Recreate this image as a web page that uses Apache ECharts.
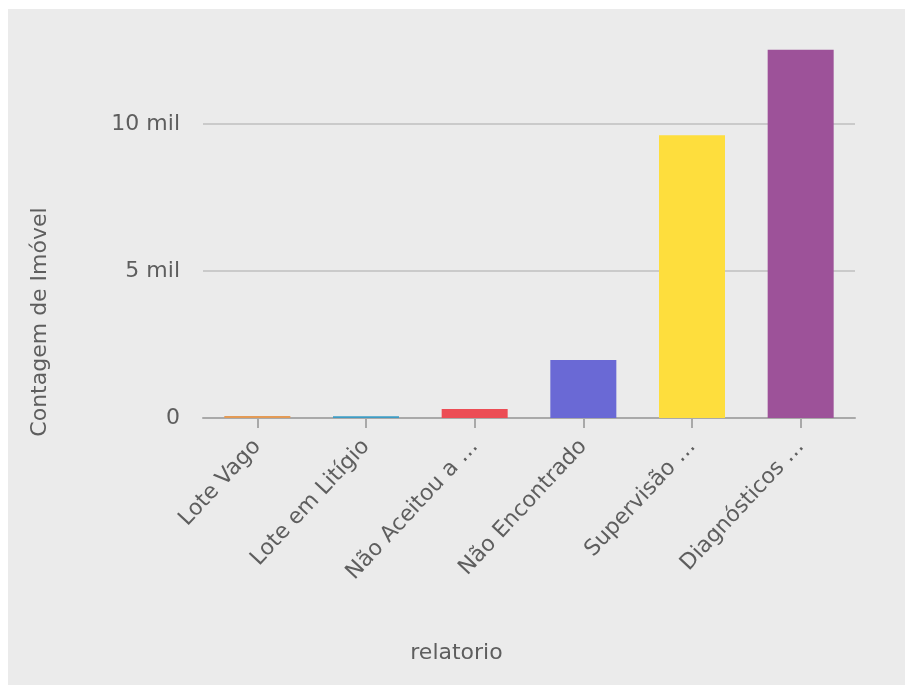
<!DOCTYPE html>
<html>
<head>
<meta charset="utf-8">
<script src="https://cdn.jsdelivr.net/npm/echarts@6/dist/echarts.min.js"></script>
<style>
  html, body { margin: 0; padding: 0; background: #ffffff; }
  #wrap { position: relative; width: 905px; height: 685px; background: #ffffff; overflow: hidden; }
  #chart { position: absolute; left: 8px; top: 9px; width: 897px; height: 676px; background: #ebebeb; }
</style>
</head>
<body>
<div id="wrap"><div id="chart"></div></div>
<script>
// Contagem de imóveis por relatório
const categories = ['Lote Vago', 'Lote em Litígio', 'Não Aceitou a …', 'Não Encontrado', 'Supervisão …', 'Diagnósticos …'];
const counts = [65, 60, 310, 1975, 9620, 12520];
const barColors = ['#e39a55', '#3d9cc4', '#ec4d55', '#6a69d5', '#fede3d', '#9d5299'];
const yTicks = [0, 5000, 10000];
const yMax = 12600;
const xTitle = 'relatorio';
const yTitle = 'Contagem de Imóvel';

const FONT = 'DejaVu Sans';
const TEXT = '#5e5e5e';
const SIZE = 22;

const chart = echarts.init(document.getElementById('chart'), null, { renderer: 'canvas' });

chart.setOption({
  backgroundColor: '#ebebeb',
  animation: false,
  grid: { left: 195, right: 50, top: 38.5, bottom: 267, containLabel: false },
  graphic: [
    {
      type: 'text',
      left: 'center',
      top: 633,
      style: { text: xTitle, fill: TEXT, font: SIZE + 'px "' + FONT + '"' }
    },
    {
      type: 'text',
      x: 32,
      y: 313,
      rotation: Math.PI / 2,
      style: {
        text: yTitle, fill: TEXT, font: SIZE + 'px "' + FONT + '"',
        align: 'center', verticalAlign: 'middle'
      }
    }
  ],
  xAxis: {
    type: 'category',
    data: categories,
    axisLine: { show: true, lineStyle: { color: '#a9a9a9', width: 2 } },
    axisTick: { show: true, alignWithLabel: true, length: 10, lineStyle: { color: '#a9a9a9', width: 2 } },
    axisLabel: {
      rotate: 47,
      margin: 25,
      interval: 0,
      color: TEXT,
      fontFamily: FONT,
      fontSize: SIZE
    },
    splitLine: { show: false }
  },
  yAxis: {
    type: 'value',
    min: 0,
    max: yMax,
    interval: 5000,
    axisLine: { show: false },
    axisTick: { show: false },
    axisLabel: {
      margin: 23,
      color: TEXT,
      fontFamily: FONT,
      fontSize: SIZE,
      showMaxLabel: false,
      formatter: function (v) {
        if (yTicks.indexOf(v) < 0) return '';
        return v === 0 ? '0' : (v / 1000) + ' mil';
      }
    },
    splitLine: { show: true, showMaxLine: false, lineStyle: { color: '#cacaca', width: 2 } }
  },
  series: [{
    type: 'bar',
    barWidth: 66,
    data: counts.map(function (v, i) {
      return { value: v, itemStyle: { color: barColors[i] } };
    })
  }]
});
</script>
</body>
</html>
